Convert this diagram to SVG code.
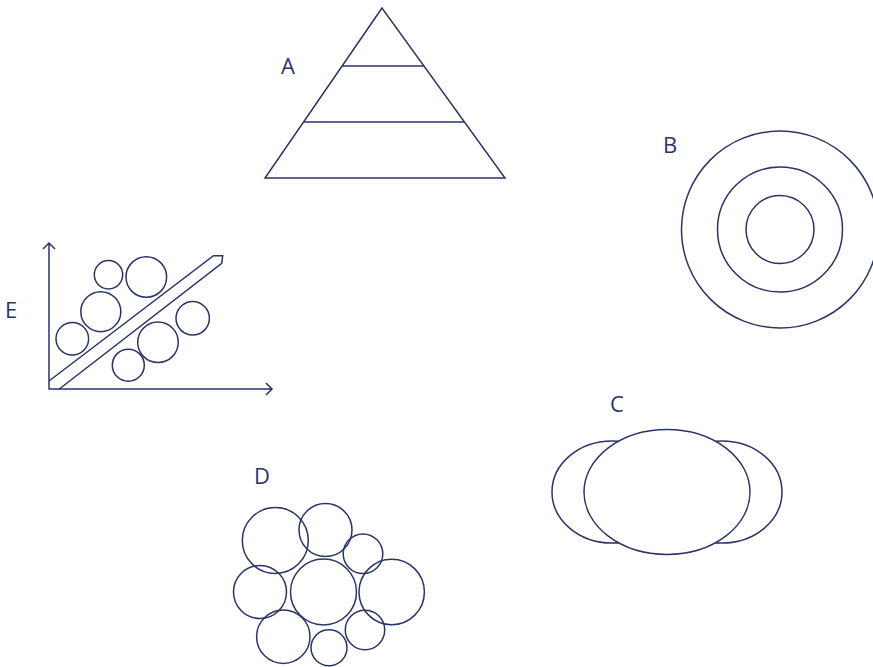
<svg xmlns="http://www.w3.org/2000/svg" width="873" height="667" viewBox="0 0 873 667">
<style>
.s{fill:none;stroke:#2b3467;stroke-width:1.5;stroke-linejoin:miter}
.w{fill:#fff;stroke:#2b3467;stroke-width:1.5}
.t{font-family:"Open Sans","Noto Sans",sans-serif;font-size:22px;fill:#2b3467}
</style>
<rect width="873" height="667" fill="#fff"/>
<g id="A">
<path class="s" d="M382,8 L265,178 L505,178 Z M342,66 H424 M304,122 H464"/>
<text class="t" x="281" y="74">A</text>
</g>
<g id="B">
<circle class="s" cx="780" cy="229.5" r="98.5"/>
<circle class="s" cx="780" cy="229.5" r="62.5"/>
<circle class="s" cx="780" cy="229.5" r="34"/>
<text class="t" x="663" y="153">B</text>
</g>
<g id="C">
<ellipse class="s" cx="612" cy="492" rx="60" ry="51"/>
<ellipse class="s" cx="722" cy="492" rx="60" ry="51"/>
<ellipse class="w" cx="667" cy="492" rx="83" ry="62.5"/>
<text class="t" x="610" y="411.5">C</text>
</g>
<g id="D">
<circle class="s" cx="275.3" cy="540.5" r="33"/>
<circle class="s" cx="325.5" cy="530" r="26.5"/>
<circle class="s" cx="363" cy="553.7" r="19.8"/>
<circle class="s" cx="260" cy="592" r="26.5"/>
<circle class="s" cx="323.5" cy="592" r="33"/>
<circle class="s" cx="391.7" cy="592" r="32.7"/>
<circle class="s" cx="283.3" cy="636.7" r="26.7"/>
<circle class="s" cx="329" cy="647.8" r="18"/>
<circle class="s" cx="365" cy="630" r="19.7"/>
<text class="t" x="254" y="484">D</text>
</g>
<g id="E">
<path class="s" d="M49,243 V389 H272 M43,249 L49,243 L55,249 M266,383 L272,389 L266,395"/>
<path class="s" d="M49,381 L213.5,255.7 L222.7,255.7 L221.7,263.3 L59.3,389"/>
<circle class="s" cx="108.5" cy="274.8" r="14.2"/>
<circle class="s" cx="146.3" cy="277" r="20.3"/>
<circle class="s" cx="100.8" cy="311.7" r="20"/>
<circle class="s" cx="72.3" cy="338.8" r="16.3"/>
<circle class="s" cx="192.7" cy="318.3" r="16.7"/>
<circle class="s" cx="158" cy="342.3" r="20.3"/>
<circle class="s" cx="128.3" cy="365.2" r="16"/>
<text class="t" x="5" y="317.5">E</text>
</g>
<g id="connectors"></g>
</svg>
